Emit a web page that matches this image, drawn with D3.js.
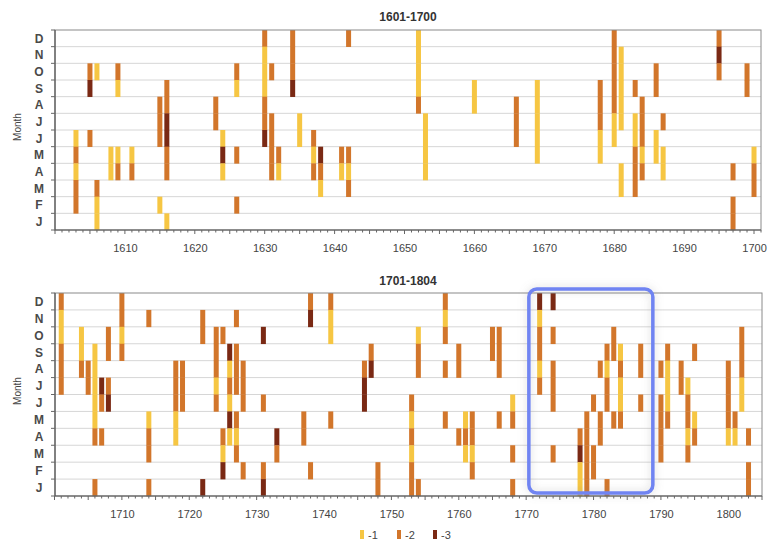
<!DOCTYPE html>
<html><head><meta charset="utf-8">
<script src="https://cdn.jsdelivr.net/npm/d3@7"></script>
<style>body{margin:0;background:#fff;} svg{display:block;font-family:"Liberation Sans",Arial,sans-serif;}</style>
</head><body><svg id="chart" width="771" height="544"></svg>
<script>
// month codes, index 1 = January ... 12 = December
const monthLabels = ["J","F","M","A","M","J","J","A","S","O","N","D"];
const levels = [-1, -2, -3];
const levelColors = ["#f6c643", "#d2762b", "#7a2914"];
const titles = ["1601-1700", "1701-1804"];
const ticks1 = [1610,1620,1630,1640,1650,1660,1670,1680,1690,1700];
const ticks2 = [1710,1720,1730,1740,1750,1760,1770,1780,1790,1800];

// [year, month(1-12), severity level 1..3 meaning -1..-3]
const cells1 = [
 [1603,6,1],[1603,5,2],[1603,4,1],[1603,3,2],[1603,2,2],
 [1605,10,2],[1605,9,3],[1605,6,2],
 [1606,10,1],[1606,3,2],[1606,2,1],[1606,1,1],
 [1608,5,1],[1608,4,1],
 [1609,10,2],[1609,9,1],[1609,5,1],[1609,4,2],
 [1611,5,1],[1611,4,2],
 [1615,8,2],[1615,7,2],[1615,6,2],[1615,2,1],
 [1616,9,2],[1616,8,2],[1616,7,3],[1616,6,3],[1616,5,2],[1616,4,2],[1616,1,1],
 [1623,8,2],[1623,7,2],
 [1624,6,1],[1624,5,3],[1624,4,1],
 [1626,10,2],[1626,9,1],[1626,5,2],[1626,2,2],
 [1630,12,2],[1630,11,1],[1630,10,1],[1630,9,1],[1630,8,2],[1630,7,2],[1630,6,3],
 [1631,10,2],[1631,7,2],[1631,6,2],[1631,5,2],[1631,4,2],
 [1632,5,2],[1632,4,1],
 [1634,12,2],[1634,11,2],[1634,10,2],[1634,9,3],
 [1635,7,1],[1635,6,1],
 [1637,6,2],[1637,5,1],[1637,4,2],
 [1638,5,3],[1638,4,2],[1638,3,1],
 [1641,5,2],[1641,4,1],
 [1642,12,2],[1642,5,2],[1642,4,1],[1642,3,2],
 [1652,12,1],[1652,11,1],[1652,10,1],[1652,9,1],[1652,8,2],
 [1653,7,1],[1653,6,1],[1653,5,1],[1653,4,1],
 [1660,9,1],[1660,8,1],
 [1666,8,2],[1666,7,2],[1666,6,2],
 [1669,9,1],[1669,8,1],[1669,7,1],[1669,6,1],[1669,5,1],
 [1678,9,2],[1678,8,2],[1678,7,2],[1678,6,1],[1678,5,1],
 [1680,12,2],[1680,11,2],[1680,10,2],[1680,9,2],[1680,8,2],[1680,7,1],[1680,6,1],
 [1681,11,1],[1681,10,1],[1681,9,1],[1681,8,1],[1681,7,1],[1681,4,1],[1681,3,1],
 [1683,9,2],[1683,7,1],[1683,6,1],[1683,5,2],[1683,4,2],[1683,3,2],
 [1684,8,2],[1684,7,2],[1684,6,2],[1684,5,1],[1684,4,2],
 [1686,10,2],[1686,9,2],[1686,6,1],[1686,5,1],
 [1687,7,2],[1687,5,1],[1687,4,1],
 [1695,12,2],[1695,11,3],[1695,10,2],
 [1697,4,2],[1697,2,2],[1697,1,2],
 [1699,10,2],[1699,9,2],
 [1700,5,1],[1700,4,2],[1700,3,2]
];

const cells2 = [
 [1701,12,2],[1701,11,1],[1701,10,1],[1701,9,2],[1701,8,2],[1701,7,2],
 [1704,10,1],[1704,9,1],[1704,8,2],
 [1705,8,2],[1705,7,2],
 [1706,9,1],[1706,8,1],[1706,7,1],[1706,6,1],[1706,5,1],[1706,4,2],[1706,1,2],
 [1707,7,3],[1707,6,2],[1707,4,2],
 [1708,10,2],[1708,9,2],[1708,7,2],[1708,6,3],
 [1710,12,2],[1710,11,2],[1710,10,1],[1710,9,2],
 [1714,11,2],[1714,5,1],[1714,4,2],[1714,3,2],[1714,1,2],
 [1718,8,2],[1718,7,2],[1718,6,2],[1718,5,1],[1718,4,1],
 [1719,8,2],[1719,7,2],[1719,6,2],
 [1722,11,2],[1722,10,2],[1722,1,3],
 [1724,10,2],[1724,9,2],[1724,8,2],[1724,7,1],[1724,6,2],
 [1725,10,2],[1725,4,2],[1725,3,1],[1725,2,3],
 [1726,9,3],[1726,8,1],[1726,7,2],[1726,6,1],[1726,5,3],[1726,4,1],
 [1727,11,2],[1727,9,2],[1727,8,2],[1727,7,2],[1727,5,2],[1727,4,1],[1727,3,2],
 [1728,8,2],[1728,7,2],[1728,6,2],[1728,2,2],
 [1731,10,3],[1731,6,2],[1731,2,2],[1731,1,3],
 [1733,4,3],[1733,3,2],
 [1737,5,2],[1737,4,2],
 [1738,12,2],[1738,11,3],[1738,2,2],
 [1741,12,2],[1741,11,1],[1741,10,1],[1741,5,2],
 [1746,8,2],[1746,7,3],[1746,6,3],
 [1747,9,2],[1747,8,3],
 [1748,2,2],[1748,1,2],
 [1753,6,2],[1753,5,1],[1753,4,2],[1753,3,1],[1753,2,2],[1753,1,2],
 [1754,10,1],[1754,9,2],[1754,8,2],[1754,1,2],
 [1758,12,2],[1758,11,1],[1758,10,2],[1758,8,2],[1758,5,2],
 [1760,9,2],[1760,8,2],[1760,4,2],
 [1761,5,1],[1761,4,2],[1761,3,1],
 [1762,5,2],[1762,4,2],[1762,3,1],[1762,2,2],
 [1765,10,2],[1765,9,2],
 [1766,10,2],[1766,9,2],[1766,8,2],[1766,5,2],
 [1768,6,1],[1768,5,2],[1768,3,2],[1768,1,2],
 [1772,12,3],[1772,11,1],[1772,10,2],[1772,9,2],[1772,8,1],[1772,7,2],
 [1774,12,3],[1774,10,2],[1774,8,2],[1774,7,2],[1774,6,2],[1774,3,2],
 [1778,4,2],[1778,3,3],[1778,2,1],[1778,1,1],
 [1779,5,2],[1779,4,2],[1779,3,2],[1779,2,2],[1779,1,2],
 [1780,6,2],[1780,3,2],[1780,2,2],
 [1781,8,2],[1781,5,2],[1781,4,2],
 [1782,9,2],[1782,8,1],[1782,7,2],[1782,6,2],[1782,1,2],
 [1783,10,2],[1783,9,2],[1783,5,2],
 [1784,9,1],[1784,8,2],[1784,7,1],[1784,6,1],[1784,5,2],
 [1787,9,2],[1787,8,2],[1787,6,2],
 [1790,8,2],[1790,6,2],[1790,5,2],[1790,4,2],[1790,3,2],
 [1791,9,2],[1791,8,1],[1791,7,1],[1791,6,1],[1791,5,2],
 [1793,8,2],[1793,7,2],
 [1794,7,1],[1794,6,2],[1794,5,2],[1794,4,1],[1794,3,2],
 [1795,9,2],[1795,5,1],[1795,4,2],
 [1800,8,2],[1800,7,2],[1800,6,2],[1800,5,2],[1800,4,1],
 [1801,5,2],[1801,4,1],
 [1802,10,2],[1802,9,2],[1802,8,2],[1802,7,1],[1802,6,1],
 [1803,4,2],[1803,2,2],[1803,1,2]
];

const highlightYears = [1770.4, 1788.8];

const svg = d3.select("#chart");
const color = d3.scaleOrdinal().domain([1,2,3]).range(levelColors);

const defs = svg.append("defs");
const f = defs.append("filter").attr("id","glow").attr("x","-20%").attr("y","-20%").attr("width","140%").attr("height","140%");
f.append("feGaussianBlur").attr("in","SourceAlpha").attr("stdDeviation",4).attr("result","b");
f.append("feFlood").attr("flood-color","#888").attr("flood-opacity",0.35);
f.append("feComposite").attr("in2","b").attr("operator","in").attr("result","s");
const fm = f.append("feMerge");
fm.append("feMergeNode").attr("in","s");
fm.append("feMergeNode").attr("in","SourceGraphic");

function panel(cfg){
  const {top, bottom, left, right, domain, range, cells, ticks, title, titleY, labelY} = cfg;
  const g = svg.append("g");
  const x = d3.scaleLinear().domain(domain).range(range);
  const monthsOrder = d3.range(12, 0, -1); // Dec..Jan top to bottom
  const y = d3.scaleBand().domain(monthsOrder).range([top, bottom]).padding(0);

  g.append("g").selectAll("line").data(d3.range(1,12)).join("line")
    .attr("x1", left).attr("x2", right)
    .attr("y1", d => top + d*y.bandwidth()).attr("y2", d => top + d*y.bandwidth())
    .attr("stroke", "#d6d6d6").attr("stroke-width", 1);

  g.append("g").selectAll("rect").data(cells).join("rect")
    .attr("x", d => x(d[0]) - 2.5).attr("width", 5)
    .attr("y", d => y(d[1])).attr("height", y.bandwidth()+0.3)
    .attr("fill", d => color(d[2]));

  g.append("rect").attr("x", left).attr("y", top).attr("width", right-left).attr("height", bottom-top)
    .attr("fill","none").attr("stroke","#8a8a8a").attr("stroke-width",1);
  g.append("path").attr("d", `M${left},${top}V${bottom}H${right}`).attr("fill","none").attr("stroke","#555").attr("stroke-width",1.2);

  g.append("g").selectAll("line").data(d3.range(0,13)).join("line")
    .attr("x1", left-4).attr("x2", left)
    .attr("y1", d => top + d*y.bandwidth()).attr("y2", d => top + d*y.bandwidth())
    .attr("stroke","#666");

  g.append("g").selectAll("text").data(monthsOrder).join("text")
    .attr("x", 39).attr("y", d => y(d) + y.bandwidth()/2)
    .attr("dy","0.36em").attr("text-anchor","middle")
    .attr("font-size", 12).attr("font-weight","bold").attr("fill","#4a4a4a")
    .text(d => monthLabels[d-1]);

  const yrs = d3.range(Math.ceil(domain[0]), Math.floor(domain[1])+1);
  g.append("g").selectAll("line").data(yrs).join("line")
    .attr("x1", d => x(d)).attr("x2", d => x(d))
    .attr("y1", bottom).attr("y2", d => bottom + (d % 5 === 0 ? 4 : 2.5))
    .attr("stroke","#666").attr("stroke-width",1);

  const ax = d3.axisBottom(x).tickValues(ticks).tickFormat(d3.format("d")).tickSize(0).tickPadding(14);
  const axg = g.append("g").attr("transform",`translate(0,${bottom})`).call(ax);
  axg.select(".domain").remove();
  axg.selectAll("text").attr("font-size",11).attr("fill","#444").attr("font-family","Liberation Sans, Arial, sans-serif");

  g.append("text").attr("x", 408).attr("y", titleY).attr("text-anchor","middle")
    .attr("font-size",12).attr("font-weight","bold").attr("fill","#333").text(title);

  g.append("text").attr("transform",`translate(21,${labelY}) rotate(-90)`).attr("text-anchor","middle")
    .attr("font-size",10).attr("fill","#444").text("Month");
  return {x, y};
}

panel({top:30, bottom:230, left:55, right:761, domain:[1600,1701], range:[55,761],
  cells:cells1, ticks:ticks1, title:titles[0], titleY:21, labelY:127});
const p2 = panel({top:293, bottom:496, left:55, right:762, domain:[1700,1805], range:[54.5,762],
  cells:cells2, ticks:ticks2, title:titles[1], titleY:285, labelY:391});

svg.append("rect")
  .attr("x", p2.x(highlightYears[0])).attr("y", 289)
  .attr("width", p2.x(highlightYears[1]) - p2.x(highlightYears[0]))
  .attr("height", 204).attr("rx", 8)
  .attr("fill","none").attr("stroke","#6f84f2").attr("stroke-width",3.5)
  .attr("filter","url(#glow)");

const lg = svg.append("g").attr("transform","translate(0,535)");
const legX = [362, 399, 435];
levels.forEach((lv, i) => {
  lg.append("rect").attr("x", legX[i]-2).attr("y", -5).attr("width", 4).attr("height", 9).attr("fill", levelColors[i]);
  lg.append("text").attr("x", legX[i]+6).attr("y", 0).attr("dy","0.35em")
    .attr("font-size",11).attr("fill","#444").text(lv);
});
</script>
</body></html>
